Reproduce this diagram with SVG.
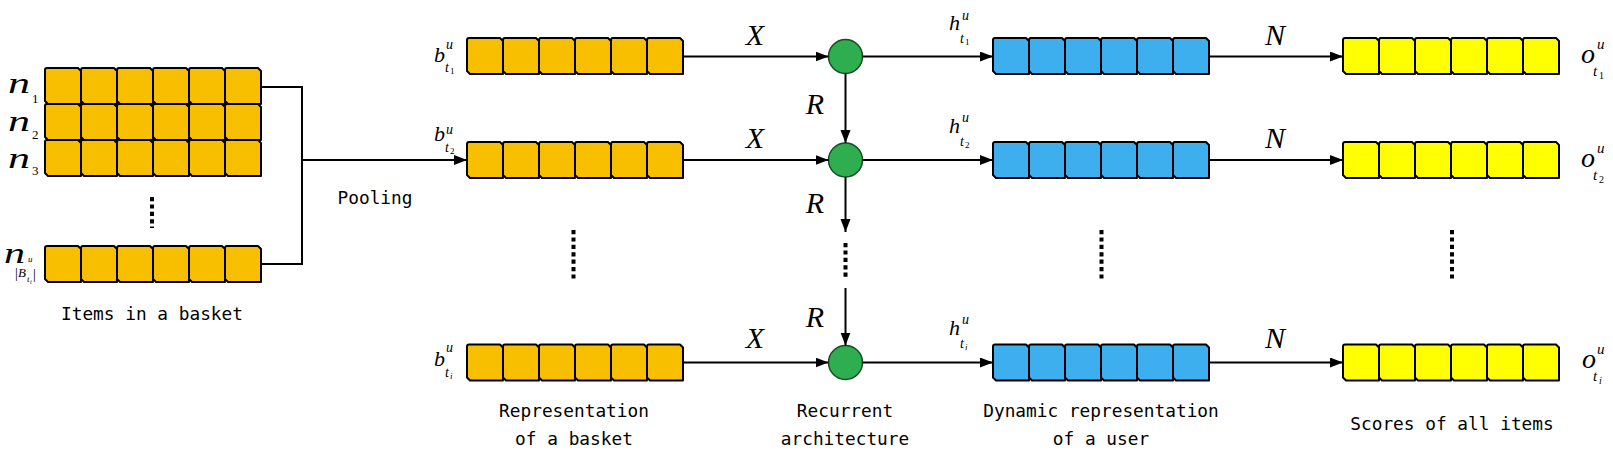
<svg xmlns="http://www.w3.org/2000/svg" xmlns:xlink="http://www.w3.org/1999/xlink" width="1613" height="458" viewBox="0 0 1613 458">
<style>
.o{fill:#F8BF00}.b{fill:#3DAEEE}.y{fill:#FFFF00}
.cellp{stroke:#000;stroke-width:2;stroke-linejoin:round}
.ln{stroke:#000;stroke-width:2;fill:none}
.dots{stroke:#000;stroke-width:4;stroke-dasharray:4.2 3.2;fill:none}
.lbl{font-family:"DejaVu Sans Mono",monospace;font-size:17.8px;fill:#000;text-anchor:middle}
.m{font-family:"Liberation Serif","Times New Roman",serif;font-style:italic;fill:#000}
.d{font-family:"Liberation Serif","Times New Roman",serif;font-style:normal;fill:#000}
.node{stroke:#1a4d26;stroke-width:1.5;fill:#2EAE4E}
</style>
<defs>
<path id="cell" class="cellp" d="M2,0 H33 L36,3 V36 H3 L0,33 V2 Q0,0 2,0 Z"/>
<g id="row">
<use xlink:href="#cell" x="0"/><use xlink:href="#cell" x="36"/><use xlink:href="#cell" x="72"/><use xlink:href="#cell" x="108"/><use xlink:href="#cell" x="144"/><use xlink:href="#cell" x="180"/>
</g>
<marker id="ah" markerUnits="userSpaceOnUse" markerWidth="14" markerHeight="12" refX="13" refY="5" orient="auto">
<path d="M0,0 L13,5 L0,10 Z" fill="#000"/>
</marker>
</defs>

<!-- Items in a basket -->
<g id="items">
<use xlink:href="#row" x="45" y="68" class="o"/>
<use xlink:href="#row" x="45" y="104" class="o"/>
<use xlink:href="#row" x="45" y="140" class="o"/>
<use xlink:href="#row" x="45" y="246" class="o"/>
<line class="dots" x1="152" y1="197" x2="152" y2="228"/>
<text class="m" x="8" y="93" font-size="30" textLength="22" lengthAdjust="spacingAndGlyphs">n</text><text class="d" x="32" y="103" font-size="13">1</text>
<text class="m" x="8" y="131" font-size="30" textLength="22" lengthAdjust="spacingAndGlyphs">n</text><text class="d" x="32" y="139" font-size="13">2</text>
<text class="m" x="8" y="168" font-size="30" textLength="22" lengthAdjust="spacingAndGlyphs">n</text><text class="d" x="32" y="175" font-size="13">3</text>
<text class="m" x="4" y="263" font-size="30" textLength="21" lengthAdjust="spacingAndGlyphs">n</text>
<text class="d" x="15" y="278" font-size="14">|</text><text class="m" x="18" y="277" font-size="13">B</text>
<text class="m" x="28" y="262" font-size="9">u</text><text class="m" x="27" y="282" font-size="9">t</text><text class="m" x="30" y="284" font-size="6">i</text>
<text class="d" x="33" y="279" font-size="14">|</text>
<text class="lbl" x="152" y="320">Items in a basket</text>
</g>

<g id="pooling-label"><text class="lbl" x="375" y="204">Pooling</text></g>

<!-- basket representations -->
<g id="basket1">
<use xlink:href="#row" x="467" y="38" class="o"/>
<text class="m" x="434" y="62" font-size="22">b</text><text class="m" x="446" y="49" font-size="14">u</text>
<text class="m" x="445" y="72" font-size="14">t</text><text class="d" x="450" y="74" font-size="9">1</text>
</g>
<g id="basket2">
<use xlink:href="#row" x="467" y="142" class="o"/>
<text class="m" x="434" y="141" font-size="22">b</text><text class="m" x="446" y="134" font-size="14">u</text>
<text class="m" x="445" y="152" font-size="14">t</text><text class="d" x="450" y="154" font-size="9">2</text>
</g>
<g id="basketi">
<use xlink:href="#row" x="467" y="344.5" class="o"/>
<text class="m" x="434" y="366" font-size="22">b</text><text class="m" x="446" y="352" font-size="14">u</text>
<text class="m" x="445" y="377" font-size="14">t</text><text class="m" x="450" y="379" font-size="9">i</text>
</g>
<g id="basket-dots"><line class="dots" x1="573.5" y1="230" x2="573.5" y2="280"/></g>
<g id="basket-label"><text class="lbl" x="574" y="417">Representation</text><text class="lbl" x="574" y="445">of a basket</text></g>

<!-- recurrent nodes -->
<g id="rnn1"><circle class="node" cx="845.5" cy="56.5" r="17"/></g>
<g id="rnn2"><circle class="node" cx="845.5" cy="160" r="17"/></g>
<g id="rnni"><circle class="node" cx="845.5" cy="362.5" r="17"/></g>
<g id="rnn-label"><text class="lbl" x="845" y="417">Recurrent</text><text class="lbl" x="845" y="445">architecture</text></g>

<!-- user representations -->
<g id="user1">
<use xlink:href="#row" x="993" y="38" class="b"/>
<text class="m" x="949" y="30" font-size="22">h</text><text class="m" x="962" y="20" font-size="14">u</text>
<text class="m" x="960" y="43" font-size="14">t</text><text class="d" x="965" y="45" font-size="9">1</text>
</g>
<g id="user2">
<use xlink:href="#row" x="993" y="142" class="b"/>
<text class="m" x="949" y="133" font-size="22">h</text><text class="m" x="962" y="122" font-size="14">u</text>
<text class="m" x="960" y="146" font-size="14">t</text><text class="d" x="965" y="148" font-size="9">2</text>
</g>
<g id="useri">
<use xlink:href="#row" x="993" y="344.5" class="b"/>
<text class="m" x="949" y="335" font-size="22">h</text><text class="m" x="962" y="324" font-size="14">u</text>
<text class="m" x="960" y="348" font-size="14">t</text><text class="m" x="965" y="350" font-size="9">i</text>
</g>
<g id="user-dots"><line class="dots" x1="1101.5" y1="230" x2="1101.5" y2="280"/></g>
<g id="user-label"><text class="lbl" x="1101" y="417">Dynamic representation</text><text class="lbl" x="1101" y="445">of a user</text></g>

<!-- scores -->
<g id="score1">
<use xlink:href="#row" x="1343" y="38" class="y"/>
<text class="m" x="1581" y="63" font-size="28">o</text><text class="m" x="1597" y="49" font-size="15">u</text>
<text class="m" x="1593" y="76" font-size="15">t</text><text class="d" x="1599" y="79" font-size="10">1</text>
</g>
<g id="score2">
<use xlink:href="#row" x="1343" y="142" class="y"/>
<text class="m" x="1581" y="167" font-size="28">o</text><text class="m" x="1597" y="153" font-size="15">u</text>
<text class="m" x="1593" y="180" font-size="15">t</text><text class="d" x="1599" y="183" font-size="10">2</text>
</g>
<g id="scorei">
<use xlink:href="#row" x="1343" y="344.5" class="y"/>
<text class="m" x="1582" y="368" font-size="28">o</text><text class="m" x="1597" y="354" font-size="15">u</text>
<text class="m" x="1593" y="381" font-size="15">t</text><text class="m" x="1599" y="384" font-size="10">i</text>
</g>
<g id="score-dots"><line class="dots" x1="1452" y1="230" x2="1452" y2="280"/></g>
<g id="score-label"><text class="lbl" x="1452" y="430">Scores of all items</text></g>

<!-- connectors -->
<g id="connectors">
<path class="ln" d="M261,87 H302 V264 H261"/>
<path class="ln" d="M302,160 H467" marker-end="url(#ah)"/>
<path class="ln" d="M683,56.5 H828.5" marker-end="url(#ah)"/>
<path class="ln" d="M683,160 H828.5" marker-end="url(#ah)"/>
<path class="ln" d="M683,362.5 H828.5" marker-end="url(#ah)"/>
<path class="ln" d="M845.5,73.5 V143" marker-end="url(#ah)"/>
<path class="ln" d="M845.5,177 V232" marker-end="url(#ah)"/>
<line class="dots" x1="845.5" y1="243" x2="845.5" y2="277"/>
<path class="ln" d="M845.5,288 V345.5" marker-end="url(#ah)"/>
<path class="ln" d="M862.5,56.5 H993" marker-end="url(#ah)"/>
<path class="ln" d="M862.5,160 H993" marker-end="url(#ah)"/>
<path class="ln" d="M862.5,362.5 H993" marker-end="url(#ah)"/>
<path class="ln" d="M1209,56.5 H1343" marker-end="url(#ah)"/>
<path class="ln" d="M1209,160 H1343" marker-end="url(#ah)"/>
<path class="ln" d="M1209,362.5 H1343" marker-end="url(#ah)"/>
<text class="m" x="755" y="45" font-size="30" text-anchor="middle">X</text>
<text class="m" x="755" y="148" font-size="30" text-anchor="middle">X</text>
<text class="m" x="755" y="348" font-size="30" text-anchor="middle">X</text>
<text class="m" x="815" y="114" font-size="30" text-anchor="middle">R</text>
<text class="m" x="815" y="213" font-size="30" text-anchor="middle">R</text>
<text class="m" x="815" y="327" font-size="30" text-anchor="middle">R</text>
<text class="m" x="1275" y="45" font-size="30" text-anchor="middle">N</text>
<text class="m" x="1275" y="148" font-size="30" text-anchor="middle">N</text>
<text class="m" x="1275" y="348" font-size="30" text-anchor="middle">N</text>
</g>
</svg>
